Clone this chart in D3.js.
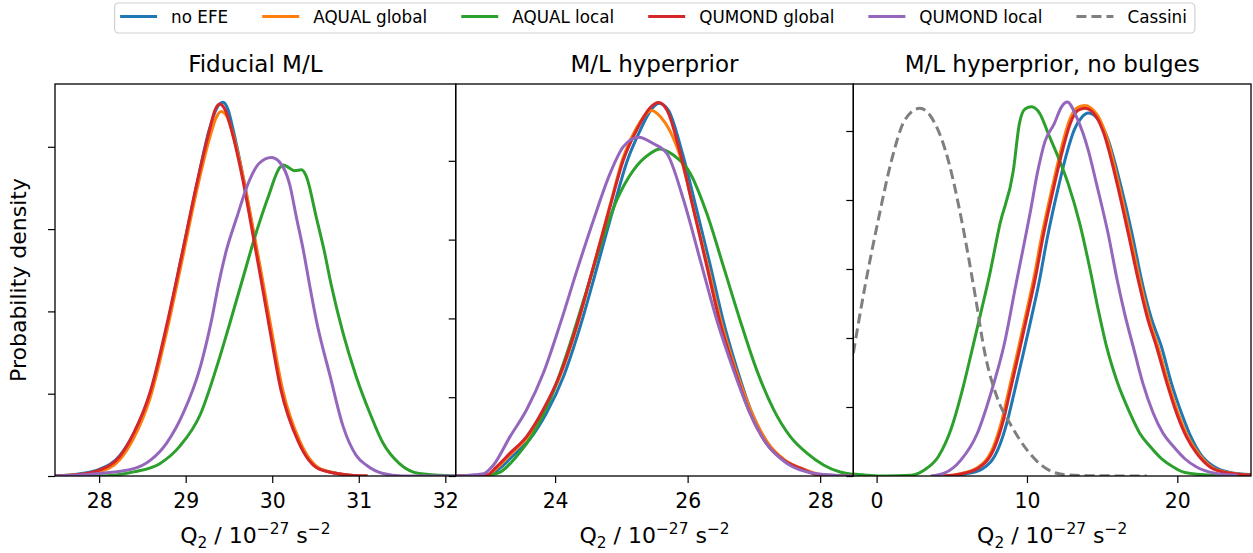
<!DOCTYPE html>
<html><head><meta charset="utf-8">
<script src="https://cdn.jsdelivr.net/npm/d3@7"></script>
<style>body{margin:0;background:#fff} svg{display:block;font-family:"DejaVu Sans",sans-serif}</style>
</head><body><svg id="c" width="1253" height="553"></svg>
<script>
// ---------- data ----------
const seriesNames = ["no EFE", "AQUAL global", "AQUAL local", "QUMOND global", "QUMOND local", "Cassini"];
const seriesColors = ["#1f77b4", "#ff7f0e", "#2ca02c", "#d62728", "#9467bd", "#7f7f7f"];
const panelTitles = ["Fiducial M/L", "M/L hyperprior", "M/L hyperprior, no bulges"];

const p1XDomain = [27.49, 32.12];
const p2XDomain = [22.5, 28.5];
const p3XDomain = [-1.55, 24.9];
const p1XTicks = [28, 29, 30, 31, 32];
const p2XTicks = [24, 26, 28];
const p3XTicks = [0, 10, 20];
const p1YTicks = [0, 1, 2, 3, 4];
const p2YTicks = [0, 1, 2, 3, 4];
const p3YTicks = [0, 1, 2, 3, 4, 5];
const yTops = [4.763, 4.975, 5.681];

// Panel 1: Fiducial M/L  [Q2, density (tick units)]
const p1_noEFE = [[27.49,0],[27.8,0.03],[28.0,0.08],[28.24,0.25],[28.4,0.52],[28.59,1.0],[28.78,1.8],[28.95,2.65],[29.13,3.55],[29.27,4.2],[29.36,4.47],[29.43,4.54],[29.49,4.45],[29.55,4.2],[29.67,3.6],[29.77,3.03],[29.87,2.45],[29.97,1.85],[30.11,1.05],[30.31,0.42],[30.56,0.08],[30.9,0.01],[31.1,0]];
const p1_aqualGlobal = [[27.49,0],[27.8,0.02],[28.0,0.05],[28.24,0.2],[28.4,0.46],[28.59,0.95],[28.78,1.75],[28.95,2.58],[29.13,3.48],[29.27,4.08],[29.35,4.35],[29.41,4.43],[29.48,4.36],[29.55,4.14],[29.68,3.55],[29.78,3.0],[29.88,2.43],[29.98,1.84],[30.12,1.05],[30.32,0.42],[30.57,0.08],[30.9,0.01],[31.1,0]];
const p1_aqualLocal = [[27.49,0],[28.0,0.0],[28.4,0.05],[28.7,0.15],[28.93,0.36],[29.17,0.75],[29.36,1.33],[29.5,1.82],[29.66,2.4],[29.81,2.94],[29.95,3.38],[30.09,3.75],[30.13,3.78],[30.2,3.74],[30.26,3.71],[30.34,3.72],[30.39,3.65],[30.51,3.14],[30.6,2.74],[30.68,2.33],[30.82,1.73],[30.97,1.21],[31.13,0.76],[31.28,0.4],[31.47,0.15],[31.7,0.03],[32.12,0]];
const p1_qumondGlobal = [[27.49,0],[27.8,0.02],[28.0,0.07],[28.24,0.24],[28.4,0.52],[28.59,1.02],[28.78,1.83],[28.95,2.66],[29.13,3.56],[29.27,4.18],[29.34,4.45],[29.39,4.52],[29.46,4.44],[29.53,4.2],[29.66,3.6],[29.76,3.03],[29.86,2.45],[29.96,1.85],[30.1,1.05],[30.3,0.42],[30.55,0.08],[30.9,0.01],[31.1,0]];
const p1_qumondLocal = [[27.49,0],[28.0,0.03],[28.4,0.09],[28.59,0.19],[28.78,0.4],[28.97,0.76],[29.17,1.33],[29.3,1.9],[29.38,2.33],[29.47,2.74],[29.59,3.14],[29.72,3.55],[29.85,3.8],[29.99,3.87],[30.08,3.82],[30.2,3.55],[30.28,3.14],[30.36,2.74],[30.43,2.33],[30.51,1.89],[30.67,1.21],[30.82,0.6],[30.97,0.25],[31.09,0.13],[31.28,0.03],[31.5,0],[32.12,0]];

// Panel 2: M/L hyperprior
const p2_noEFE = [[22.49,0],[23.0,0.01],[23.17,0.1],[23.37,0.26],[23.62,0.47],[23.87,0.8],[24.13,1.27],[24.38,1.9],[24.63,2.64],[24.88,3.4],[25.08,3.98],[25.28,4.38],[25.46,4.66],[25.57,4.73],[25.71,4.64],[25.92,4.1],[26.13,3.4],[26.34,2.68],[26.54,1.96],[26.73,1.4],[26.97,0.8],[27.21,0.41],[27.46,0.2],[27.76,0.08],[28.0,0.01],[28.5,0]];
const p2_aqualGlobal = [[22.49,0],[22.97,0.01],[23.12,0.1],[23.32,0.27],[23.57,0.48],[23.82,0.82],[24.08,1.28],[24.33,1.9],[24.58,2.66],[24.83,3.44],[25.03,4.05],[25.23,4.42],[25.46,4.64],[25.6,4.55],[25.72,4.4],[25.91,4.0],[26.1,3.35],[26.31,2.64],[26.51,1.94],[26.71,1.39],[26.96,0.82],[27.21,0.42],[27.47,0.2],[27.77,0.08],[28.0,0.02],[28.5,0]];
const p2_aqualLocal = [[22.49,0],[22.97,0.01],[23.17,0.05],[23.42,0.25],[23.67,0.54],[23.92,0.96],[24.18,1.56],[24.43,2.23],[24.68,2.91],[24.93,3.5],[25.18,3.88],[25.43,4.09],[25.58,4.15],[25.79,4.07],[26.04,3.84],[26.29,3.33],[26.54,2.66],[26.79,1.98],[27.04,1.35],[27.3,0.84],[27.55,0.5],[27.8,0.29],[28.05,0.14],[28.3,0.05],[28.5,0.02]];
const p2_qumondGlobal = [[22.49,0],[22.97,0.01],[23.12,0.12],[23.32,0.29],[23.57,0.5],[23.82,0.84],[24.08,1.3],[24.33,1.92],[24.58,2.66],[24.83,3.42],[25.03,4.01],[25.23,4.39],[25.43,4.67],[25.56,4.74],[25.69,4.64],[25.89,4.09],[26.09,3.38],[26.29,2.66],[26.49,1.94],[26.69,1.39],[26.94,0.8],[27.19,0.41],[27.45,0.2],[27.75,0.08],[28.0,0.01],[28.5,0]];
const p2_qumondLocal = [[22.49,0],[22.92,0.03],[23.07,0.14],[23.32,0.5],[23.57,0.84],[23.82,1.3],[24.08,1.94],[24.33,2.61],[24.58,3.25],[24.83,3.84],[25.03,4.18],[25.26,4.3],[25.48,4.22],[25.69,4.09],[25.94,3.5],[26.19,2.74],[26.44,1.98],[26.69,1.35],[26.94,0.8],[27.19,0.41],[27.5,0.16],[27.95,0.03],[28.5,0]];

// Panel 3: M/L hyperprior, no bulges
const p3_noEFE = [[4.8,0],[5.9,0.03],[7.0,0.1],[8.1,0.4],[8.65,0.76],[9.12,1.18],[9.75,1.77],[10.3,2.3],[10.8,2.8],[11.35,3.45],[12.05,4.15],[12.65,4.68],[13.15,5.02],[13.65,5.2],[14.08,5.26],[14.85,5.13],[15.35,4.9],[16.25,4.2],[17.0,3.5],[17.62,2.84],[18.25,2.3],[18.95,1.87],[19.6,1.35],[20.28,0.91],[20.9,0.57],[21.5,0.33],[22.4,0.14],[23.5,0.05],[24.9,0.02]];
const p3_aqualGlobal = [[4.4,0],[5.5,0.03],[6.7,0.12],[7.76,0.42],[8.3,0.78],[8.77,1.22],[9.4,1.82],[9.95,2.36],[10.45,2.86],[11.0,3.5],[11.7,4.2],[12.3,4.76],[12.8,5.14],[13.3,5.33],[13.82,5.37],[14.65,5.24],[15.2,4.98],[16.1,4.23],[16.84,3.51],[17.5,2.84],[18.1,2.3],[18.72,1.87],[19.4,1.35],[20.05,0.91],[20.7,0.57],[21.38,0.33],[22.27,0.13],[23.3,0.05],[24.9,0.01]];
const p3_aqualLocal = [[-1.55,0.03],[-0.5,0.01],[0.5,0],[2.3,0.01],[3.2,0.09],[4.1,0.28],[5.0,0.71],[5.65,1.2],[6.3,1.78],[6.98,2.41],[7.5,2.9],[8.2,3.65],[9.09,4.42],[9.49,5.1],[9.87,5.32],[10.31,5.35],[10.86,5.25],[11.42,4.96],[12.08,4.62],[12.75,4.23],[13.52,3.65],[14.19,3.0],[14.75,2.4],[15.3,1.87],[15.96,1.39],[16.85,0.91],[17.5,0.62],[18.18,0.43],[19.0,0.24],[19.73,0.13],[20.5,0.05],[22.3,0.01],[24.9,0]];
const p3_qumondGlobal = [[4.5,0],[5.6,0.03],[6.8,0.12],[7.86,0.42],[8.4,0.78],[8.87,1.22],[9.5,1.82],[10.05,2.36],[10.55,2.86],[11.1,3.5],[11.8,4.2],[12.4,4.75],[12.9,5.12],[13.4,5.3],[13.86,5.33],[14.63,5.2],[15.12,4.96],[16.0,4.23],[16.74,3.51],[17.4,2.84],[18.0,2.3],[18.62,1.87],[19.3,1.35],[19.95,0.91],[20.6,0.57],[21.28,0.33],[22.17,0.13],[23.2,0.05],[24.9,0.01]];
const p3_qumondLocal = [[3.6,0],[4.5,0.04],[5.6,0.23],[6.7,0.62],[7.6,1.2],[8.5,1.92],[9.27,2.78],[9.75,3.3],[10.2,3.8],[10.7,4.4],[11.2,4.85],[11.8,5.1],[12.3,5.35],[12.68,5.42],[13.3,5.2],[14.08,4.72],[14.63,4.23],[15.4,3.51],[16.0,2.84],[16.5,2.35],[17.07,1.87],[17.7,1.35],[18.4,0.91],[19.05,0.62],[19.73,0.43],[20.5,0.25],[21.28,0.13],[22.5,0.04],[24.0,0.01]];
const p3_cassini = [[-1.55,1.78],[-0.78,2.74],[0.11,3.71],[1.0,4.58],[1.88,5.16],[2.88,5.33],[3.88,5.11],[4.76,4.58],[5.65,3.71],[6.53,2.65],[7.2,1.78],[8.08,1.1],[8.9,0.75],[10.1,0.35],[11.0,0.15],[11.7,0.06],[12.5,0.02],[14.0,0.005],[17.96,0]];

// ---------- layout ----------
const svg = d3.select("#c");
const plotTop = 84, plotBottom = 476;
const lefts = [55, 455.7, 853.3], rights = [455.7, 853.3, 1251];
const panels = [
  {xd: p1XDomain, xt: p1XTicks, yt: p1YTicks, series: [p1_noEFE, p1_aqualGlobal, p1_aqualLocal, p1_qumondGlobal, p1_qumondLocal, null]},
  {xd: p2XDomain, xt: p2XTicks, yt: p2YTicks, series: [p2_noEFE, p2_aqualGlobal, p2_aqualLocal, p2_qumondGlobal, p2_qumondLocal, null]},
  {xd: p3XDomain, xt: p3XTicks, yt: p3YTicks, series: [p3_noEFE, p3_aqualGlobal, p3_aqualLocal, p3_qumondGlobal, p3_qumondLocal, p3_cassini]}
];

panels.forEach((p, i) => {
  const x = d3.scaleLinear().domain(p.xd).range([lefts[i], rights[i]]);
  const y = d3.scaleLinear().domain([0, yTops[i]]).range([plotBottom, plotTop]);
  const g = svg.append("g");
  const cid = "clip" + i;
  svg.append("clipPath").attr("id", cid).append("rect")
    .attr("x", lefts[i]).attr("y", plotTop).attr("width", rights[i] - lefts[i]).attr("height", plotBottom - plotTop);

  const line = d3.line().x(d => x(d[0])).y(d => y(d[1])).curve(d3.curveMonotoneX);
  const cg = g.append("g").attr("clip-path", `url(#${cid})`);
  p.series.forEach((s, k) => {
    if (!s) return;
    cg.append("path").datum(s).attr("d", line)
      .attr("fill", "none").attr("stroke", seriesColors[k])
      .attr("stroke-width", 3).attr("stroke-linejoin", "round").attr("stroke-linecap", "butt")
      .attr("stroke-dasharray", seriesNames[k] === "Cassini" ? "10,5" : null);
  });

  const xa = g.append("g").attr("transform", `translate(0,${plotBottom})`)
    .call(d3.axisBottom(x).tickValues(p.xt).tickFormat(d3.format("d")).tickSize(7).tickPadding(10.5));
  xa.select(".domain").remove();
  xa.selectAll("line").attr("stroke", "#000").attr("stroke-width", 1.2);
  xa.selectAll("text").attr("font-size", 20.4).attr("fill", "#000").attr("font-family", "DejaVu Sans");

  const ya = g.append("g").attr("transform", `translate(${lefts[i]},0)`)
    .call(d3.axisLeft(y).tickValues(p.yt).tickFormat("").tickSize(7));
  ya.select(".domain").remove();
  ya.selectAll("line").attr("stroke", "#000").attr("stroke-width", 1.2);

  g.append("rect").attr("x", lefts[i]).attr("y", plotTop)
    .attr("width", rights[i] - lefts[i]).attr("height", plotBottom - plotTop)
    .attr("fill", "none").attr("stroke", "#000").attr("stroke-width", 1.3);

  const cx = (lefts[i] + rights[i]) / 2;
  g.append("text").attr("x", cx).attr("y", 72).attr("text-anchor", "middle")
    .attr("font-size", 23).attr("fill", "#000").text(panelTitles[i]);

  const xl = g.append("text").attr("x", cx).attr("y", 543).attr("text-anchor", "middle")
    .attr("font-size", 22).attr("fill", "#000");
  xl.append("tspan").text("Q");
  xl.append("tspan").attr("font-size", 15.4).attr("dy", 4.5).text("2");
  xl.append("tspan").attr("dy", -4.5).text(" / 10");
  xl.append("tspan").attr("font-size", 15.4).attr("dy", -9).text("\u221227");
  xl.append("tspan").attr("dy", 9).text(" s");
  xl.append("tspan").attr("font-size", 15.4).attr("dy", -9).text("\u22122");
});

svg.append("text").attr("transform", "translate(26,280) rotate(-90)")
  .attr("text-anchor", "middle").attr("font-size", 22).attr("fill", "#000").text("Probability density");

// ---------- legend ----------
const lg = svg.append("g");
const box = lg.append("rect").attr("y", 3).attr("height", 30).attr("rx", 4)
  .attr("fill", "#fff").attr("fill-opacity", 0.8).attr("stroke", "#d0d0d0").attr("stroke-width", 1.2);
const handle = 37, hpad = 14, colsp = 34, fs = 16.8;
let cursor = 0;
const items = [];
seriesNames.forEach((n, k) => {
  const it = lg.append("g");
  it.append("line").attr("x1", 0).attr("x2", handle).attr("y1", 16.5).attr("y2", 16.5)
    .attr("stroke", seriesColors[k]).attr("stroke-width", 3)
    .attr("stroke-dasharray", n === "Cassini" ? "10,5" : null);
  const t = it.append("text").attr("x", handle + hpad).attr("y", 22.5)
    .attr("font-size", fs).attr("fill", "#000").text(n);
  const w = t.node().getComputedTextLength();
  items.push({it, start: cursor});
  cursor += handle + hpad + w + colsp;
});
const totalW = cursor - colsp;
const lx0 = 653.5 - totalW / 2;
items.forEach(d => d.it.attr("transform", `translate(${lx0 + d.start},0)`));
box.attr("x", lx0 - 5.5).attr("width", totalW + 13.5);
</script></body></html>
